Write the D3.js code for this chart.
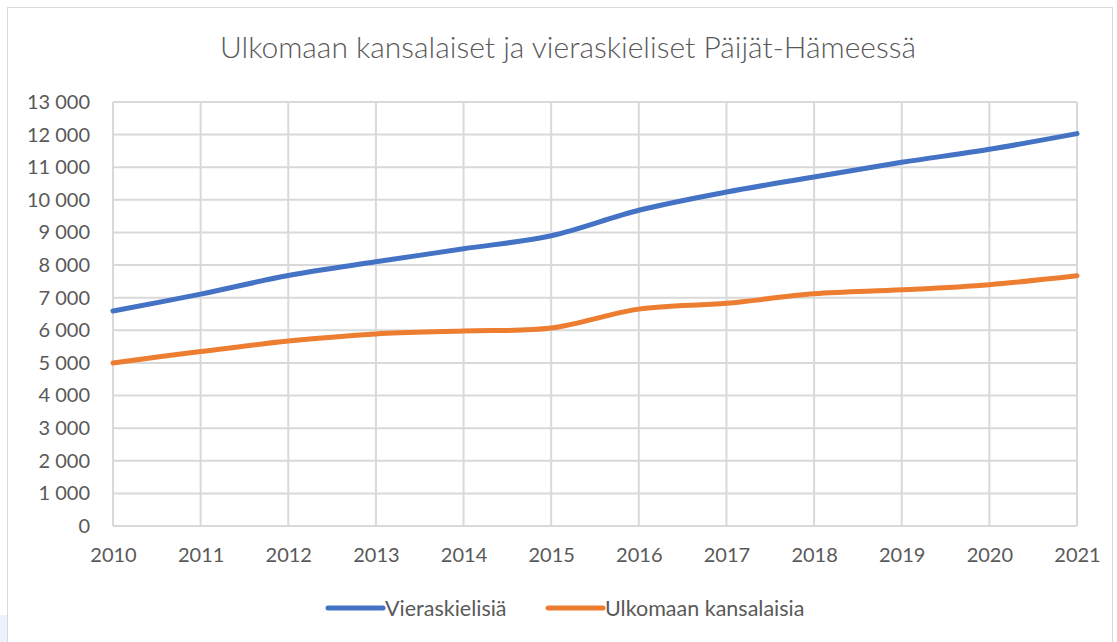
<!DOCTYPE html>
<html>
<head>
<meta charset="utf-8">
<script src="https://cdn.jsdelivr.net/npm/d3@7"></script>
<style>
  body { margin: 0; background: #fff; }
  svg { display: block; font-family: Lato, "Open Sans", sans-serif; }
</style>
</head>
<body>
<div id="chart"></div>
<script>
// Data
const years = [2010, 2011, 2012, 2013, 2014, 2015, 2016, 2017, 2018, 2019, 2020, 2021];
const vieraskielisia = [6590, 7110, 7680, 8100, 8500, 8900, 9680, 10240, 10700, 11150, 11550, 12030];
const ulkomaan = [5000, 5350, 5670, 5890, 5980, 6070, 6650, 6830, 7120, 7240, 7400, 7670];
const yTicks = [0, 1000, 2000, 3000, 4000, 5000, 6000, 7000, 8000, 9000, 10000, 11000, 12000, 13000];
const seriesNames = ["Vieraskielisiä", "Ulkomaan kansalaisia"];
const colors = ["#4472C4", "#ED7D31"];

const fullWidth = 1117, fullHeight = 642;
const margin = { top: 102, right: 40, bottom: 116, left: 113 };
const fontFamily = "Lato, 'Open Sans', sans-serif";

const svg = d3.select("#chart")
  .append("svg")
  .attr("width", fullWidth)
  .attr("height", fullHeight);

// page remnant + chart frame
svg.append("rect")
  .attr("x", 0).attr("y", 615).attr("width", 7).attr("height", 27)
  .attr("fill", "#eaf3fb");
svg.append("rect")
  .attr("x", 7.5).attr("y", 7.5).attr("width", 1105).attr("height", 700)
  .attr("fill", "#fff").attr("stroke", "#d9d9d9");

const x = d3.scalePoint()
  .domain(years)
  .range([margin.left, fullWidth - margin.right]);

const y = d3.scaleLinear()
  .domain([0, 13000])
  .range([fullHeight - margin.bottom, margin.top]);

const locale = d3.formatLocale({ decimal: ",", thousands: " ", grouping: [3], currency: ["", "€"] });
const fmt = locale.format(",d");

// grid
svg.append("g")
  .selectAll("line")
  .data(yTicks)
  .join("line")
  .attr("x1", x(years[0])).attr("x2", x(years[years.length - 1]))
  .attr("y1", d => y(d)).attr("y2", d => y(d))
  .attr("stroke", "#d9d9d9").attr("stroke-width", 2);

svg.append("g")
  .selectAll("line")
  .data(years)
  .join("line")
  .attr("x1", d => x(d)).attr("x2", d => x(d))
  .attr("y1", y(0)).attr("y2", y(13000))
  .attr("stroke", "#d9d9d9").attr("stroke-width", 2);

// axes
const yAxis = svg.append("g")
  .attr("transform", `translate(${margin.left - 23},0)`)
  .call(d3.axisLeft(y).tickValues(yTicks).tickFormat(fmt).tickSize(0));
yAxis.attr("font-family", fontFamily);
yAxis.select(".domain").remove();
yAxis.selectAll("text")
  .attr("x", 0)
  .attr("fill", "#595959")
  .style("font-size", "20px");

const xAxis = svg.append("g")
  .attr("transform", `translate(0,${y(0) + 19})`)
  .call(d3.axisBottom(x).tickSize(0));
xAxis.attr("font-family", fontFamily);
xAxis.select(".domain").remove();
xAxis.selectAll("text")
  .attr("fill", "#595959")
  .style("font-size", "20px");

// lines
const line = d3.line()
  .x((d, i) => x(years[i]))
  .y(d => y(d))
  .curve(d3.curveCardinal.tension(0));

[vieraskielisia, ulkomaan].forEach((vals, i) => {
  svg.append("path")
    .datum(vals)
    .attr("d", line)
    .attr("fill", "none")
    .attr("stroke", colors[i])
    .attr("stroke-width", 5)
    .attr("stroke-linecap", "round");
});

// title
svg.append("text")
  .attr("x", 568)
  .attr("y", 58)
  .attr("text-anchor", "middle")
  .attr("fill", "#595959")
  .style("font-size", "30px")
  .style("font-weight", 300)
  .text("Ulkomaan kansalaiset ja vieraskieliset Päijät-Hämeessä");

// legend
const legendX = [328, 548];
seriesNames.forEach((name, i) => {
  const g = svg.append("g").attr("transform", `translate(${legendX[i]},608)`);
  g.append("line")
    .attr("x1", 0).attr("x2", 55)
    .attr("stroke", colors[i]).attr("stroke-width", 5)
    .attr("stroke-linecap", "round");
  g.append("text")
    .attr("x", 57)
    .attr("dy", "0.35em")
    .attr("fill", "#595959")
    .style("font-size", "21.5px")
    .text(name);
});
</script>
</body>
</html>
